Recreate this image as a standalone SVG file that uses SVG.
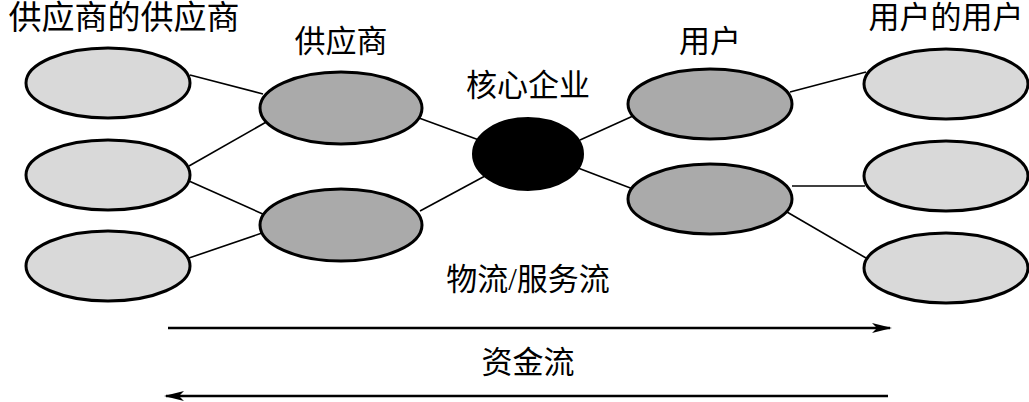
<svg xmlns="http://www.w3.org/2000/svg" width="1029" height="402" viewBox="0 0 1029 402">
<style>
.t{font-family:"Liberation Serif","Noto Sans CJK SC",serif;font-size:31px;fill:#000;text-anchor:middle}
.outer{fill:#d9d9d9;stroke:#000;stroke-width:3}
.mid{fill:#aaaaaa;stroke:#000;stroke-width:3}
.core{fill:#000;stroke:#000;stroke-width:2}
.c{stroke:#000;stroke-width:1.6;fill:none}
.a{stroke:#000;stroke-width:2.5;fill:none}
</style>
<defs>
<marker id="ah" viewBox="0 0 20 10" refX="18" refY="5" markerWidth="20" markerHeight="10" markerUnits="userSpaceOnUse" orient="auto">
<path d="M0,0 L20,5 L0,10 L5,5 Z" fill="#000"/>
</marker>
</defs>
<rect width="1029" height="402" fill="#fff"/>
<g id="connectors">
<line class="c" x1="190" y1="75" x2="263" y2="94"/>
<line class="c" x1="189" y1="166" x2="268" y2="121"/>
<line class="c" x1="189" y1="181" x2="265" y2="215"/>
<line class="c" x1="189" y1="258" x2="262" y2="233"/>
<line class="c" x1="419" y1="118" x2="479" y2="140"/>
<line class="c" x1="420" y1="211" x2="485" y2="176"/>
<line class="c" x1="580" y1="140" x2="633" y2="116"/>
<line class="c" x1="578" y1="168" x2="633" y2="189"/>
<line class="c" x1="790" y1="92" x2="866" y2="72"/>
<line class="c" x1="792" y1="186" x2="865" y2="186"/>
<line class="c" x1="787" y1="212" x2="866" y2="258"/>
<line class="a" x1="168" y1="328" x2="890" y2="328" marker-end="url(#ah)"/>
<line class="a" x1="888" y1="396" x2="166" y2="396" marker-end="url(#ah)"/>
</g>
<g id="ss1"><ellipse class="outer" cx="108" cy="83" rx="82" ry="35"/></g>
<g id="ss2"><ellipse class="outer" cx="108" cy="175" rx="82" ry="35"/></g>
<g id="ss3"><ellipse class="outer" cx="108" cy="266" rx="82" ry="35"/></g>
<g id="s1"><ellipse class="mid" cx="341" cy="108" rx="81" ry="36"/></g>
<g id="s2"><ellipse class="mid" cx="341" cy="225" rx="81" ry="36"/></g>
<g id="core"><ellipse class="core" cx="528" cy="154" rx="55" ry="36"/></g>
<g id="u1"><ellipse class="mid" cx="710" cy="104" rx="82" ry="35"/></g>
<g id="u2"><ellipse class="mid" cx="710" cy="199" rx="82" ry="35"/></g>
<g id="uu1"><ellipse class="outer" cx="946" cy="84" rx="82" ry="35"/></g>
<g id="uu2"><ellipse class="outer" cx="946" cy="176" rx="82" ry="35"/></g>
<g id="uu3"><ellipse class="outer" cx="946" cy="268" rx="82" ry="35"/></g>
<g id="labels">
<text class="t" x="124" y="29" style="font-size:33px">供应商的供应商</text>
<text class="t" x="341" y="52">供应商</text>
<text class="t" x="528" y="96">核心企业</text>
<text class="t" x="710" y="52">用户</text>
<text class="t" x="946" y="28">用户的用户</text>
<text class="t" x="528" y="290">物流/服务流</text>
<text class="t" x="528" y="373">资金流</text>
</g>
</svg>
